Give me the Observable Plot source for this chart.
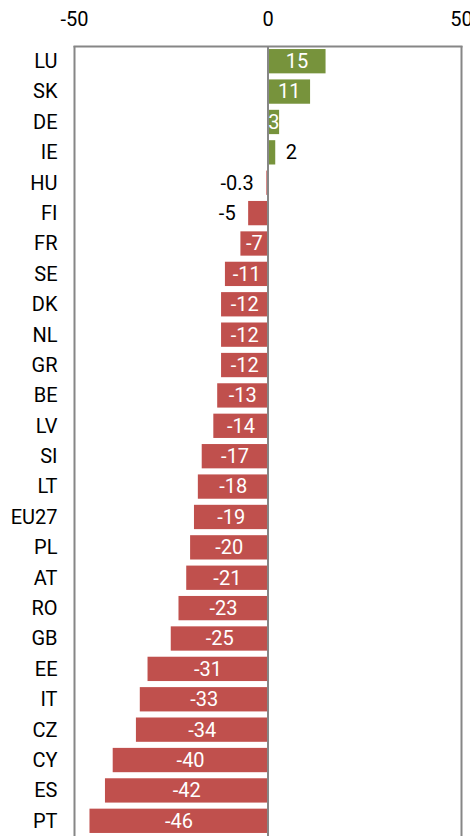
<!DOCTYPE html>
<html>
<head>
<meta charset="utf-8">
<script src="https://cdn.jsdelivr.net/npm/d3@7"></script>
<script src="https://cdn.jsdelivr.net/npm/@observablehq/plot@0.6"></script>
<style>
  html, body { margin: 0; padding: 0; background: #fff; }
  #chart svg { display: block; }
</style>
</head>
<body>
<div id="chart"></div>
<script>
const countries = ["LU","SK","DE","IE","HU","FI","FR","SE","DK","NL","GR","BE","LV","SI","LT","EU27","PL","AT","RO","GB","EE","IT","CZ","CY","ES","PT"];
const values = [15, 11, 3, 2, -0.3, -5, -7, -11, -12, -12, -12, -13, -14, -17, -18, -19, -20, -21, -23, -25, -31, -33, -34, -40, -42, -46];
const outsideLabels = ["IE", "HU", "FI"];
const xTicks = [-50, 0, 50];

const data = countries.map((c, i) => ({country: c, value: values[i]}));
const inside = data.filter(d => !outsideLabels.includes(d.country));
const outsidePos = data.filter(d => outsideLabels.includes(d.country) && d.value >= 0);
const outsideNeg = data.filter(d => outsideLabels.includes(d.country) && d.value < 0);

const GREEN = "#77933c", RED = "#c0504d", GRAY = "#868686";
const font = "Roboto, 'Liberation Sans', sans-serif";

const chart = Plot.plot({
  width: 470,
  height: 836,
  marginTop: 46,
  marginLeft: 74,
  marginRight: 9,
  marginBottom: 0,
  style: {fontFamily: font, fontSize: "20px", color: "#000", background: "#fff"},
  x: {domain: [-50, 50], ticks: xTicks, tickFormat: d => String(d), axis: "top", tickSize: 0, tickPadding: 21, label: null},
  y: {domain: countries, round: false, paddingInner: 0.2, paddingOuter: 0.1, tickSize: 0, tickPadding: 17, label: null},
  marks: [
    Plot.barX(data, {x: "value", y: "country", fill: d => d.value >= 0 ? GREEN : RED}),
    Plot.ruleX(xTicks, {stroke: GRAY, strokeWidth: 2}),
    Plot.frame({anchor: "top", stroke: GRAY, strokeWidth: 2}),
    Plot.text(inside, {x: d => d.value / 2, y: "country", text: d => String(d.value), fill: "white", fontSize: 20}),
    Plot.text(outsidePos, {x: "value", y: "country", text: d => String(d.value), fill: "black", textAnchor: "start", dx: 10, fontSize: 20}),
    Plot.text(outsideNeg, {x: "value", y: "country", text: d => String(d.value), fill: "black", textAnchor: "end", dx: -13, fontSize: 20})
  ]
});
document.getElementById("chart").appendChild(chart);
</script>
</body>
</html>
